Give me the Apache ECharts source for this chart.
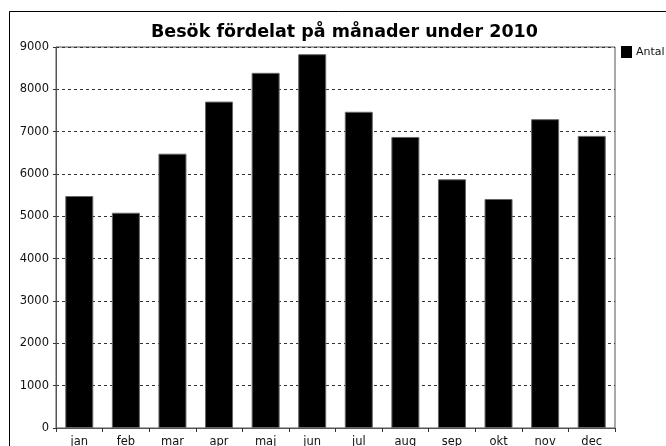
<!DOCTYPE html>
<html>
<head>
<meta charset="utf-8">
<script src="https://cdn.jsdelivr.net/npm/echarts@6/dist/echarts.min.js"></script>
<style>
html,body{margin:0;padding:0;background:#fff;}
#c{width:666px;height:446px;}
</style>
</head>
<body>
<div id="c"></div>
<script>
var titleText = 'Besök fördelat på månader under 2010';
var seriesName = 'Antal';
var months = ['jan','feb','mar','apr','maj','jun','jul','aug','sep','okt','nov','dec'];
var visits = [5480, 5085, 6480, 7710, 8390, 8830, 7470, 6875, 5875, 5410, 7295, 6900];
var yMin = 0, yMax = 9000, yStep = 1000;

var chart = echarts.init(document.getElementById('c'), null, {renderer:'canvas'});
chart.setOption({
  backgroundColor: '#ffffff',
  animation: false,
  title: {
    text: titleText,
    left: 151,
    top: 23,
    padding: 0,
    textStyle: {fontFamily: 'DejaVu Sans', fontWeight: 'bold', fontSize: 17.5, color: '#000'}
  },
  legend: {
    left: 621,
    top: 46,
    padding: 0,
    itemWidth: 11,
    itemHeight: 12,
    itemGap: 4,
    icon: 'rect',
    data: [seriesName],
    itemStyle: {borderWidth: 0, color: '#000'},
    textStyle: {fontFamily: 'DejaVu Sans', fontSize: 11, color: '#111', padding: [0,0,0,-1]}
  },
  graphic: [{
    type: 'rect',
    shape: {x: 9.5, y: 11.5, width: 700, height: 500},
    style: {fill: 'none', stroke: '#000', lineWidth: 1},
    silent: true, z: -1
  }],
  grid: {
    left: 56, top: 47, right: 51, bottom: 18,
    outerBoundsMode: 'none',
    containLabel: false,
    show: true, borderColor: '#555', borderWidth: 1, backgroundColor: '#fff'
  },
  xAxis: {
    type: 'category',
    data: months,
    axisLine: {lineStyle: {color: '#555', width: 1}},
    axisTick: {show: true, length: 4, lineStyle: {color: '#333'}},
    axisLabel: {fontFamily: 'DejaVu Sans', fontSize: 11.5, color: '#111', margin: 8},
    splitLine: {show: false}
  },
  yAxis: {
    type: 'value',
    min: yMin, max: yMax, interval: yStep,
    axisLine: {show: true, lineStyle: {color: '#555', width: 1}},
    axisTick: {show: true, length: 3, lineStyle: {color: '#333'}},
    axisLabel: {fontFamily: 'DejaVu Sans', fontSize: 11.5, color: '#111', margin: 7,
      formatter: function (v) { return String(v); }},
    splitLine: {show: true, lineStyle: {color: '#333', width: 1, type: [3,3]}}
  },
  series: [{
    name: seriesName,
    type: 'bar',
    data: visits,
    barWidth: 28,
    itemStyle: {color: '#000', borderColor: '#666', borderWidth: 1}
  }]
});
</script>
</body>
</html>
